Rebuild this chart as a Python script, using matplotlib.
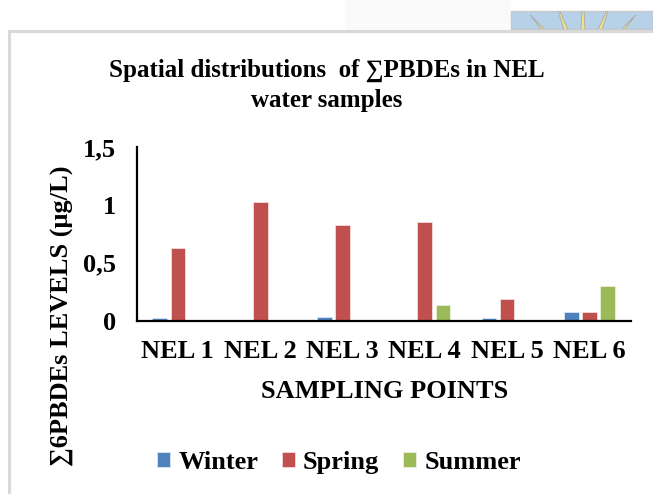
import numpy as np
import matplotlib.pyplot as plt
from matplotlib.patches import Rectangle, Polygon

# seasonal sum of 6 PBDE congeners per sampling point (ug/L)
points = ["NEL 1", "NEL 2", "NEL 3", "NEL 4", "NEL 5", "NEL 6"]
winter = [0.023, 0.0, 0.032, 0.0, 0.02, 0.075]
spring = [0.625, 1.028, 0.829, 0.85, 0.185, 0.075]
summer = [0.0, 0.0, 0.0, 0.133, 0.0, 0.30]
yticks = [0, 0.5, 1, 1.5]
ytick_labels = ["0", "0,5", "1", "1,5"]

W, H = 653, 494
plt.rcParams['font.family'] = ['Liberation Serif', 'DejaVu Serif']
plt.rcParams['font.weight'] = 'bold'

fig = plt.figure(figsize=(W / 100, H / 100), dpi=100)
fig.patch.set_facecolor('white')

# page background, pixel coordinates
bg = fig.add_axes([0, 0, 1, 1], zorder=-5)
bg.set_xlim(0, W)
bg.set_ylim(H, 0)
bg.axis('off')
bg.add_patch(Rectangle((345, 0), 166, 30, color='#fafafa', lw=0))
# little sunburst header image
bg.add_patch(Rectangle((511, 11), 142, 18, facecolor='#b7d1e8', edgecolor='#c8c8c8', lw=1))
cx, cy = 583, 75
for ang in np.linspace(-62, 62, 7):
    a = np.deg2rad(ang)
    tip = (cx + 80 * np.sin(a), cy - 80 * np.cos(a))
    b1 = (cx + 40 * np.sin(a - 0.06), cy - 40 * np.cos(a - 0.06))
    b2 = (cx + 40 * np.sin(a + 0.06), cy - 40 * np.cos(a + 0.06))
    p = Polygon([tip, b1, b2], closed=True, facecolor='#f3e08a', edgecolor='#a8a8a8', lw=0.6)
    bg.add_patch(p)
    p.set_clip_path(Rectangle((511, 11), 142, 18, transform=bg.transData))
# frame of the chart area
bg.add_patch(Rectangle((9, 31), W, H, facecolor='white', edgecolor='#d9d9d9', lw=2.2))

ax = fig.add_axes([136.7 / W, 1 - 320.7 / H, (630.6 - 136.7) / W, (320.7 - 147) / H])
x = np.arange(len(points))
w = 0.178
off = 0.22
ax.bar(x - off, winter, w, color='#4f81bd', edgecolor='#dce6f2', lw=0.6, label='Winter')
ax.bar(x, spring, w, color='#c0504d', edgecolor='#f2dcdb', lw=0.6, label='Spring')
ax.bar(x + off, summer, w, color='#9bbb59', edgecolor='#ebf1de', lw=0.6, label='Summer')

ax.set_xlim(-0.5, len(points) - 0.5)
ax.set_ylim(0, 1.5)
ax.set_yticks(yticks)
ax.set_yticklabels(ytick_labels)
ax.set_xticks(x)
ax.set_xticklabels(points)
ax.tick_params(axis='y', length=0, pad=15, labelsize=19)
ax.tick_params(axis='x', length=0, pad=14, labelsize=19)
for s in ['top', 'right']:
    ax.spines[s].set_visible(False)
for s in ['left', 'bottom']:
    ax.spines[s].set_linewidth(1.6)
    ax.spines[s].set_color('black')

fig.text(327 / W, 1 - 70 / H, "Spatial distributions  of \u2211PBDEs in NEL",
         ha='center', va='center', fontsize=18, fontweight='bold')
fig.text(327 / W, 1 - 100 / H, "water samples",
         ha='center', va='center', fontsize=18, fontweight='bold')
fig.text(385 / W, 1 - 391 / H, "SAMPLING POINTS",
         ha='center', va='center', fontsize=19, fontweight='bold')
fig.text(62 / W, 1 - 316 / H, "\u22116PBDEs LEVELS (\u03bcg/L)", rotation=90,
         ha='center', va='center', fontsize=19, fontweight='bold')

fig.legend(loc='center', bbox_to_anchor=(339 / W, 1 - 462 / H), ncol=3, frameon=False,
           fontsize=19, handlelength=0.5, handleheight=0.5, handletextpad=0.3,
           columnspacing=0.9)

fig.savefig('out.png', dpi=100)
